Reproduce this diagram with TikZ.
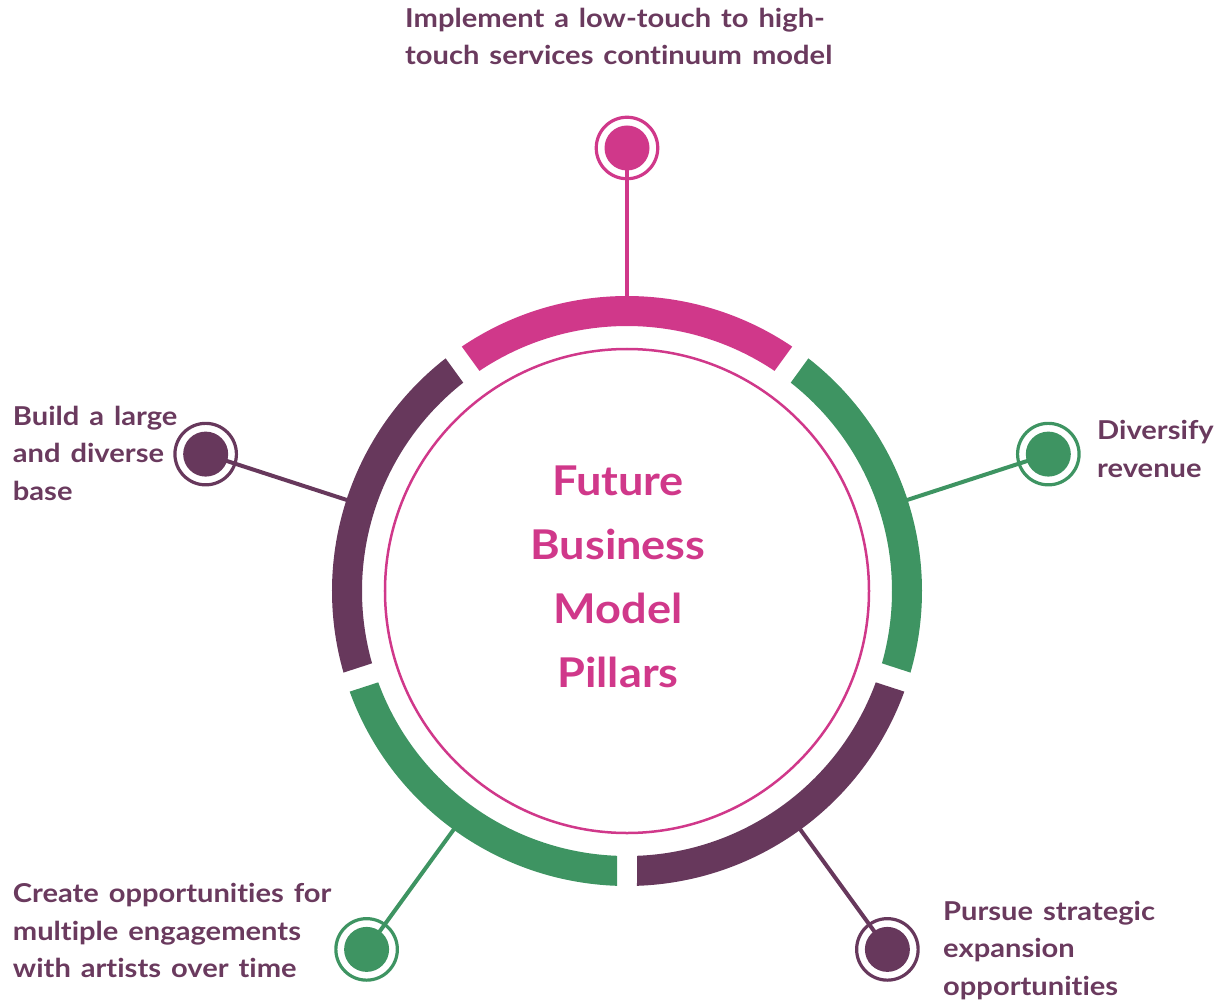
\documentclass[tikz,border=0pt]{standalone}
\usepackage{fontspec}
\setmainfont{Lato}[FakeStretch=1.1, Ligatures={NoCommon}]
\newfontfamily\lblfont{Lato}[FakeStretch=1.12, WordSpace=1.4, Ligatures={NoCommon}]
\definecolor{pinkC}{HTML}{D0388A}
\definecolor{purpC}{HTML}{67385C}
\definecolor{greenC}{HTML}{3E9462}
\definecolor{txtC}{HTML}{6A3A5E}
\tikzset{
  marker/.style={circle, draw=#1, line width=3.2pt, minimum size=61.5pt, inner sep=0pt},
  conn/.style={draw=#1, line width=4pt},
  lbl/.style={anchor=base west, inner sep=0pt, align=left, text=txtC,
    font=\lblfont\fontsize{26}{37.5}\selectfont\bfseries},
  title/.style={anchor=base, inner sep=0pt, align=center, text=pinkC,
    font=\fontsize{41}{63.7}\selectfont\bfseries},
}
\newcommand{\ringseg}[3]{% color, a1, a2
  \fill[#1] ({#2+1.943}:295) arc[start angle={#2+1.943}, end angle={#3-1.943}, radius=295]
    -- ({#3-2.163}:265) arc[start angle={#3-2.163}, end angle={#2+2.163}, radius=265] -- cycle;}
\begin{document}
\begin{tikzpicture}[x=1pt,y=1pt]
\useasboundingbox (-627,-413) rectangle (590,591);
% ring anchor coordinates
\coordinate (rA) at (90:280);
\coordinate (rB) at (162:280);
\coordinate (rC) at (18:280);
\coordinate (rD) at (234:280);
\coordinate (rE) at (306:280);
% markers
\node[marker=pinkC]  (mA) at (90:443) {};
\node[marker=purpC]  (mB) at (162:443) {};
\node[marker=greenC] (mC) at (18:443) {};
\node[marker=greenC] (mD) at (234:443) {};
\node[marker=purpC]  (mE) at (306:443) {};
% connectors
\draw[conn=pinkC]  (rA) -- (mA.center);
\draw[conn=purpC]  (rB) -- (mB.center);
\draw[conn=greenC] (rC) -- (mC.center);
\draw[conn=greenC] (rD) -- (mD.center);
\draw[conn=purpC]  (rE) -- (mE.center);
% dots
\fill[pinkC]  (mA.center) circle[radius=22.5];
\fill[purpC]  (mB.center) circle[radius=22.5];
\fill[greenC] (mC.center) circle[radius=22.5];
\fill[greenC] (mD.center) circle[radius=22.5];
\fill[purpC]  (mE.center) circle[radius=22.5];
% ring segments
\ringseg{pinkC}{54}{126}
\ringseg{purpC}{126}{198}
\ringseg{greenC}{198}{270}
\ringseg{purpC}{270}{342}
\ringseg{greenC}{342}{414}
% inner circle
\node[circle, draw=pinkC, line width=2.5pt, minimum size=484pt, inner sep=0pt] (inner) at (0,0) {};
\node[title] (ttl) at (-9,-96) {Future\\Business\\Model\\Pillars};
% labels (anchored at the baseline of the last line)
\node[lbl] (tA) at (-222,526) {Implement a low-touch to high-\\touch services continuum model};
\node[lbl] (tB) at (-614.3,91) {Build a large\\and diverse\\base};
\node[lbl] (tC) at (470,114) {Diversify\\revenue};
\node[lbl] (tD) at (-614.3,-386.7) {Create opportunities for\\multiple engagements\\with artists over time};
\node[lbl] (tE) at (316,-404) {Pursue strategic\\expansion\\opportunities};
\end{tikzpicture}
\end{document}
